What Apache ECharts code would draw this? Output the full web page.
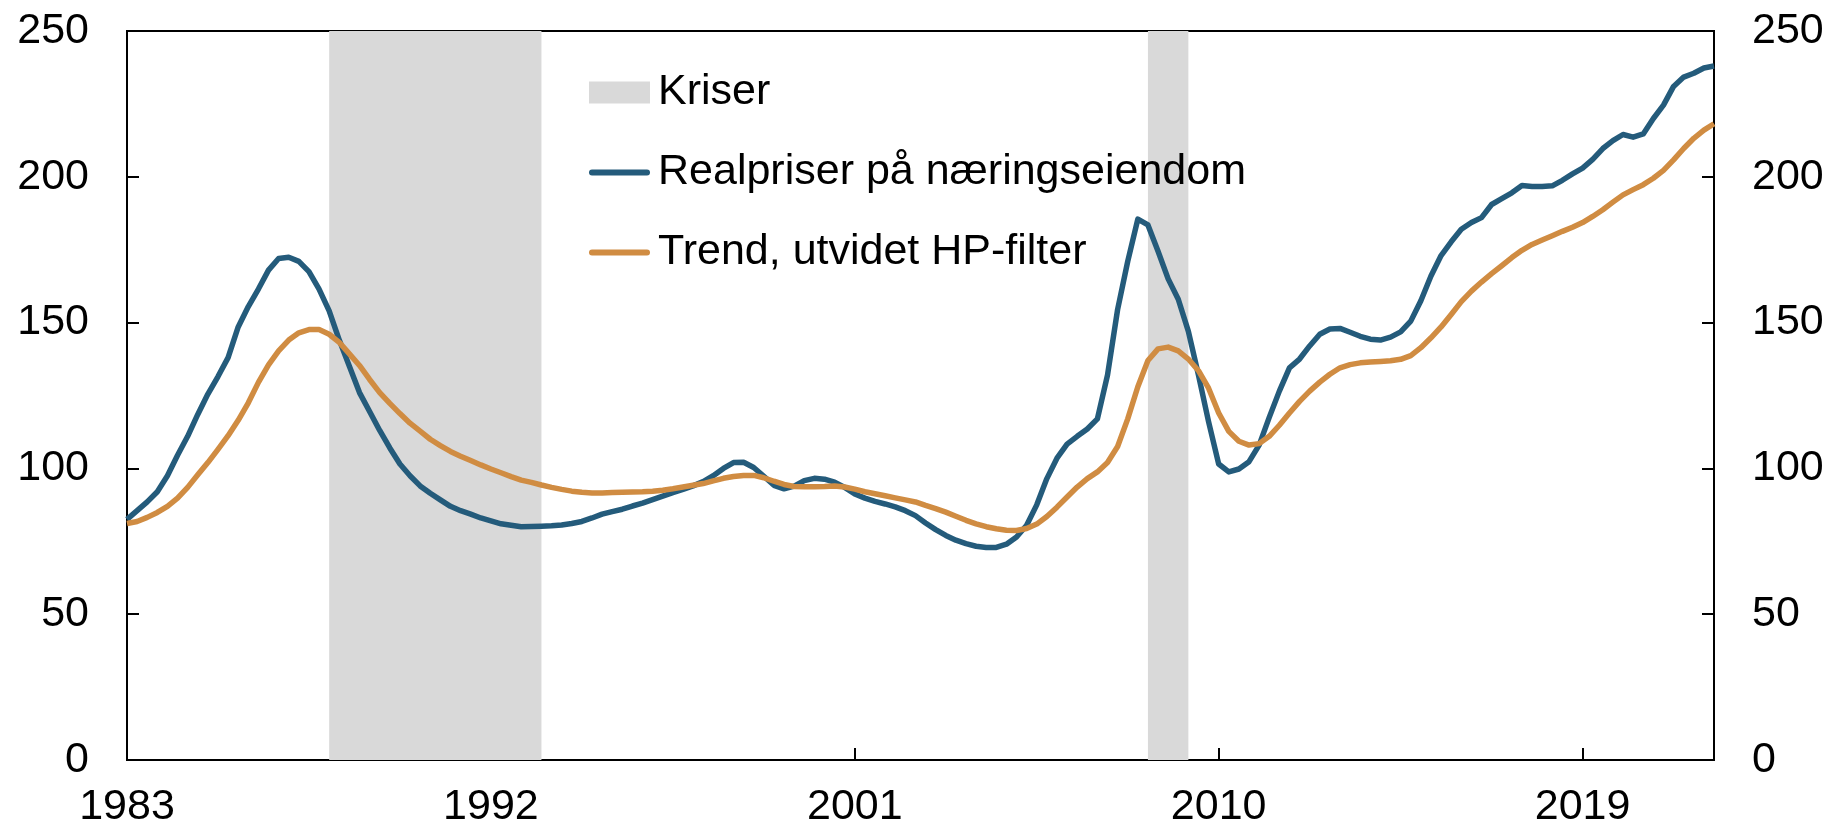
<!DOCTYPE html>
<html>
<head>
<meta charset="utf-8">
<script src="https://cdn.jsdelivr.net/npm/echarts@6/dist/echarts.min.js"></script>
<style>
  html, body { margin: 0; padding: 0; background: #fff; }
  #chart { width: 1841px; height: 831px; }
</style>
</head>
<body>
<div id="chart"></div>
<script>
// kvartalsdata 1983K1 - 2022K2
var startYear = 1983;
var endYear = 2022;
var lastQuarter = 2;
var tickYears = [1983, 1992, 2001, 2010, 2019];
var crisisPeriods = [["1988K1", "1993K2"], ["2008K2", "2009K2"]];

// Realpriser på næringseiendom
var realPrices = [
  82.5, 85.5, 88.5, 92,
  97.5, 104.5, 111, 118.5,
  125.5, 131.5, 138, 148.5,
  155.5, 161.5, 168, 172,
  172.4, 171, 167.5, 161.5,
  154, 144, 135, 126,
  119.5, 113, 107, 101.5,
  97.5, 94, 91.5, 89.2,
  87, 85.5, 84.3, 83,
  82, 81, 80.5, 80,
  80.1, 80.2, 80.3, 80.6,
  81.1, 81.8, 83, 84.3,
  85.2, 86, 87.1, 88.1,
  89.3, 90.5, 91.7, 92.8,
  94, 95.5, 97.5, 100,
  102, 102.1, 100.3, 97.3,
  94.2, 93, 93.9, 95.8,
  96.6, 96.3, 95.3, 93.5,
  91.2, 89.8, 88.7, 87.8,
  86.8, 85.5, 83.8, 81.3,
  79, 77, 75.4, 74.2,
  73.3, 72.9, 72.9, 74,
  76.5, 80.5, 87.5, 96.5,
  103.5, 108.3, 111, 113.5,
  117, 132, 154.5, 171,
  185.5, 183.5, 174.5, 165,
  158, 147, 132, 116,
  101.5, 98.8, 99.8, 102.3,
  108, 117.5, 126.5, 134.5,
  137.5, 142, 146, 147.8,
  148, 146.7, 145.3, 144.3,
  144, 145, 146.8, 150.5,
  157.5, 166, 173, 177.7,
  182, 184.3, 186, 190.5,
  192.5, 194.5, 197, 196.7,
  196.7, 196.9, 198.8, 201,
  203, 206, 209.7, 212.4,
  214.5, 213.6, 214.7, 220,
  224.6, 231, 234.2, 235.5,
  237.3, 238
];

// Trend, utvidet HP-filter
var trendValues = [
  81.1, 81.8, 83.2, 84.9,
  87, 89.8, 93.5, 97.8,
  102, 106.5, 111.2, 116.5,
  122.5, 129.5, 135.5, 140.3,
  144, 146.5, 147.6, 147.6,
  146, 143.2, 139.3, 135.3,
  130.5, 126, 122.3, 118.8,
  115.5, 112.8, 110, 107.8,
  105.8, 104.2, 102.7, 101.2,
  99.8, 98.5, 97.2, 96,
  95.2, 94.3, 93.5, 92.8,
  92.2, 91.8, 91.6, 91.6,
  91.7, 91.8, 91.9, 92,
  92.2, 92.5, 93, 93.6,
  94.2, 94.8, 95.7, 96.6,
  97.2, 97.6, 97.6, 96.8,
  95.6, 94.5, 93.8, 93.7,
  93.7, 93.8, 94, 93.6,
  92.9, 92, 91.3, 90.6,
  89.9, 89.2, 88.5, 87.3,
  86.2, 85, 83.6, 82.2,
  81, 80, 79.3, 78.8,
  78.7, 79.4, 80.9, 83.5,
  86.7, 90.2, 93.6, 96.5,
  98.8, 102, 107.5, 117,
  128, 137, 141, 141.6,
  140.3, 137.5, 133.5, 127.5,
  119, 112.7, 109.3, 108,
  108.5, 111, 114.8, 119,
  123, 126.5, 129.6, 132.3,
  134.5, 135.6, 136.2, 136.5,
  136.7, 136.9, 137.4, 138.7,
  141.4, 144.8, 148.5, 152.8,
  157.2, 160.8, 163.9, 166.8,
  169.5, 172.3, 174.8, 176.8,
  178.3, 179.8, 181.3, 182.7,
  184.3, 186.4, 188.7, 191.3,
  193.8, 195.6, 197.3, 199.5,
  202.2, 205.8, 209.7, 213.2,
  216, 218.2
];

var quarters = [];
for (var y = startYear; y <= endYear; y++) {
  for (var q = 1; q <= 4; q++) {
    if (y === endYear && q > lastQuarter) break;
    quarters.push(y + "K" + q);
  }
}

function isTickYear(label) {
  var parts = label.split("K");
  return parts[1] === "1" && tickYears.indexOf(Number(parts[0])) !== -1;
}

var fontFamily = "Arial, 'Liberation Sans', sans-serif";
// avrundet strek som legendsymbol
var lineIcon = "path://M3,0H58A3,3,0,0,1,58,6H3A3,3,0,0,1,3,0Z";

var chart = echarts.init(document.getElementById("chart"), null, { renderer: "canvas" });

var yAxisCommon = {
  type: "value",
  min: 0,
  max: 250,
  interval: 50,
  splitLine: { show: false },
  axisLine: { show: true, lineStyle: { color: "#000", width: 2 } },
  axisTick: { show: true, inside: true, length: 12, lineStyle: { color: "#000", width: 2 } },
  axisLabel: { color: "#000", fontSize: 43, fontFamily: fontFamily, margin: 38 }
};

chart.setOption({
  animation: false,
  grid: {
    left: 127,
    right: 127,
    top: 31,
    bottom: 71,
    show: true,
    borderColor: "#000",
    borderWidth: 2,
    backgroundColor: "transparent"
  },
  legend: {
    orient: "vertical",
    left: 589,
    top: 71,
    padding: 0,
    itemWidth: 61,
    itemHeight: 22,
    itemGap: 37,
    selectedMode: false,
    textStyle: { fontSize: 43, color: "#000", fontFamily: fontFamily, padding: [0, 0, 0, 3] },
    data: [
      { name: "Kriser", icon: "rect" },
      { name: "Realpriser på næringseiendom", icon: lineIcon },
      { name: "Trend, utvidet HP-filter", icon: lineIcon }
    ]
  },
  xAxis: {
    type: "category",
    data: quarters,
    boundaryGap: false,
    axisLine: { show: true, lineStyle: { color: "#000", width: 2 } },
    axisTick: {
      show: true,
      inside: true,
      length: 12,
      interval: function (index, value) { return isTickYear(value); },
      lineStyle: { color: "#000", width: 2 }
    },
    axisLabel: {
      color: "#000",
      fontSize: 43,
      fontFamily: fontFamily,
      margin: 26,
      interval: function (index, value) { return isTickYear(value); },
      formatter: function (value) { return value.split("K")[0]; }
    },
    splitLine: { show: false }
  },
  yAxis: [
    Object.assign({ position: "left" }, yAxisCommon),
    Object.assign({ position: "right" }, yAxisCommon)
  ],
  series: [
    {
      name: "Kriser",
      type: "line",
      data: [],
      itemStyle: { color: "#D9D9D9" },
      markArea: {
        silent: true,
        itemStyle: { color: "#D9D9D9" },
        data: crisisPeriods.map(function (p) {
          return [{ xAxis: p[0] }, { xAxis: p[1] }];
        })
      }
    },
    {
      name: "Realpriser på næringseiendom",
      type: "line",
      data: realPrices,
      symbol: "none",
      itemStyle: { color: "#245B7B" },
      lineStyle: { color: "#245B7B", width: 5.5, join: "round" },
      z: 3
    },
    {
      name: "Trend, utvidet HP-filter",
      type: "line",
      data: trendValues,
      symbol: "none",
      itemStyle: { color: "#D08C42" },
      lineStyle: { color: "#D08C42", width: 5.5, join: "round" },
      z: 4
    }
  ]
});
</script>
</body>
</html>
